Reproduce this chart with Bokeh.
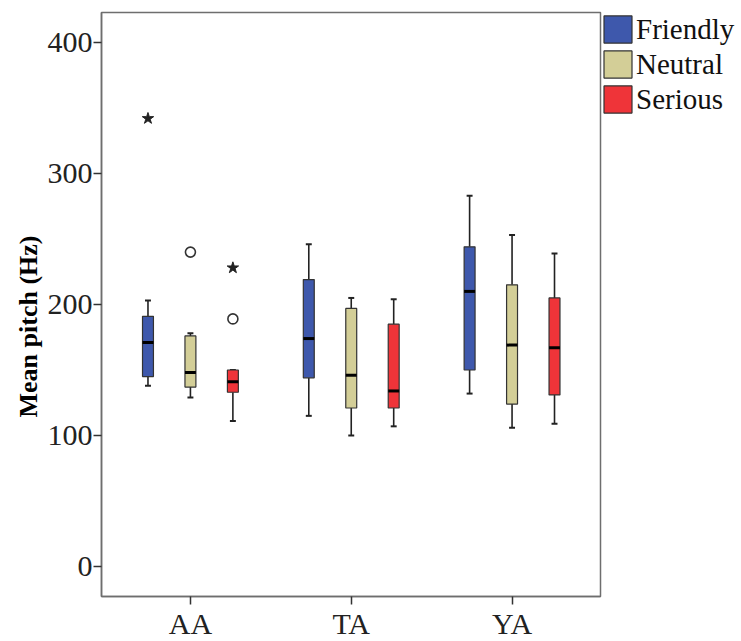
from bokeh.plotting import figure
from bokeh.models import Range1d, FixedTicker, Legend, LegendItem, ColumnDataSource, Title
from bokeh.embed import file_html
from bokeh.resources import INLINE

groups = ["AA", "TA", "YA"]
conditions = ["Friendly", "Neutral", "Serious"]
colors = ["#3E58AC", "#D3CE97", "#EF3439"]
y_ticks = [0, 100, 200, 300, 400]
y_title = "Mean pitch (Hz)"

# values per condition, in group order AA, TA, YA
lower_whisker = {"Friendly": [138, 115, 132], "Neutral": [129, 100, 106], "Serious": [111, 107, 109]}
q1 = {"Friendly": [145, 144, 150], "Neutral": [137, 121, 124], "Serious": [133, 121, 131]}
median = {"Friendly": [171, 174, 210], "Neutral": [148, 146, 169], "Serious": [141, 134, 167]}
q3 = {"Friendly": [191, 219, 244], "Neutral": [176, 197, 215], "Serious": [150, 185, 205]}
upper_whisker = {"Friendly": [203, 246, 283], "Neutral": [178, 205, 253], "Serious": [150, 204, 239]}

outlier_group = ["AA", "AA", "AA", "AA"]
outlier_condition = ["Friendly", "Neutral", "Serious", "Serious"]
outlier_value = [342, 240, 228, 189]
outlier_kind = ["extreme", "mild", "extreme", "mild"]

FONT = "Liberation Serif"
offsets = [-0.264, 0.0, 0.264]
box_w = 0.068
cap_w = 0.037

p = figure(width=741, height=641, frame_width=499, frame_height=584,
           x_range=Range1d(0.447, 3.55), y_range=Range1d(-22.9, 422.9),
           output_backend="svg", toolbar_location=None,
           min_border_left=101, min_border_top=12, min_border_bottom=45, min_border_right=5)
p.background_fill_color = "white"
p.border_fill_color = "white"
p.outline_line_color = "#6e6e6e"
p.outline_line_width = 1.5
p.xgrid.visible = False
p.ygrid.visible = False

legend_items = []
for ci, cond in enumerate(conditions):
    xs = [gi + 1 + offsets[ci] for gi in range(len(groups))]
    src = ColumnDataSource(dict(
        x=xs,
        xl=[x - box_w / 2 for x in xs], xr=[x + box_w / 2 for x in xs],
        cl=[x - cap_w / 2 for x in xs], cr=[x + cap_w / 2 for x in xs],
        lw=lower_whisker[cond], q1=q1[cond], med=median[cond],
        q3=q3[cond], uw=upper_whisker[cond]))
    p.segment("x", "lw", "x", "q1", source=src, line_color="#222222", line_width=1.6)
    p.segment("x", "q3", "x", "uw", source=src, line_color="#222222", line_width=1.6)
    p.segment("cl", "lw", "cr", "lw", source=src, line_color="#222222", line_width=2)
    p.segment("cl", "uw", "cr", "uw", source=src, line_color="#222222", line_width=2)
    r = p.vbar(x="x", width=box_w, bottom="q1", top="q3", source=src,
               fill_color=colors[ci], line_color="#333333", line_width=1.2)
    p.segment("xl", "med", "xr", "med", source=src, line_color="black", line_width=3)
    legend_items.append(LegendItem(label=cond, renderers=[r]))

for kind, marker in (("extreme", "star"), ("mild", "circle")):
    ox, oy = [], []
    for g, c, v, k in zip(outlier_group, outlier_condition, outlier_value, outlier_kind):
        if k == kind:
            ox.append(groups.index(g) + 1 + offsets[conditions.index(c)])
            oy.append(v)
    if marker == "star":
        p.scatter(ox, oy, marker="star", size=12, fill_color="#222222", line_color="#222222")
    else:
        p.scatter(ox, oy, marker="circle", size=10, fill_color=None, line_color="#333333", line_width=1.6)

# axes
p.xaxis.ticker = FixedTicker(ticks=[i + 1 for i in range(len(groups))])
p.xaxis.major_label_overrides = {i + 1: g for i, g in enumerate(groups)}
p.yaxis.ticker = FixedTicker(ticks=y_ticks)
for ax in (p.xaxis[0], p.yaxis[0]):
    ax.axis_line_color = "#6e6e6e"
    ax.axis_line_width = 1.5
    ax.major_tick_line_color = "#333333"
    ax.major_tick_line_width = 1.5
    ax.major_tick_in = 0
    ax.major_tick_out = 8
    ax.minor_tick_line_color = None
    ax.major_label_text_font = FONT
    ax.major_label_text_font_size = "30px"
    ax.major_label_text_color = "#222222"
p.xaxis.major_label_standoff = 2
p.yaxis.major_label_standoff = 1

# y-axis title as a side-panel title, shifted a little below the frame centre like the reference
ytitle = Title(text=y_title, align="left", offset=179, standoff=4,
               text_font=FONT, text_font_size="26px", text_font_style="bold",
               text_color="black")
p.add_layout(ytitle, "left")

legend = Legend(items=legend_items, location="top_left")
legend.margin = 0
legend.padding = 0
legend.spacing = 1
legend.glyph_width = 35
legend.glyph_height = 34
legend.label_height = 34
legend.label_standoff = 1
legend.label_text_font = FONT
legend.label_text_font_size = "29px"
legend.label_text_color = "#111111"
legend.border_line_color = None
legend.background_fill_alpha = 0
p.add_layout(legend, "right")

open("out.html", "w").write(file_html(p, INLINE))
